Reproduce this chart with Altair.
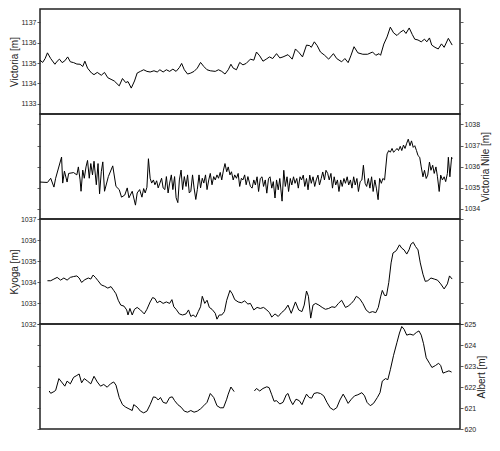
import altair as alt
import pandas as pd

# ---------------- data ----------------
vic_year = [
    2002.00, 2002.14, 2002.27, 2002.39, 2002.56, 2002.78, 2002.90, 2003.02, 2003.16, 2003.30,
    2003.45, 2003.59, 2003.76, 2003.93, 2004.10, 2004.24, 2004.35, 2004.49, 2004.70, 2004.83,
    2005.00, 2005.21, 2005.38, 2005.55, 2005.72, 2005.89, 2006.15, 2006.32, 2006.49, 2006.61,
    2006.78, 2006.95, 2007.09, 2007.26, 2007.43, 2007.60, 2007.77, 2007.97, 2008.14, 2008.28,
    2008.45, 2008.62, 2008.79, 2008.96, 2009.13, 2009.30, 2009.42, 2009.56, 2009.73, 2009.90,
    2010.07, 2010.24, 2010.41, 2010.58, 2010.75, 2010.92, 2011.18, 2011.35, 2011.52, 2011.69,
    2011.86, 2012.00, 2012.12, 2012.29, 2012.46, 2012.63, 2012.80, 2013.02,
    2013.20, 2013.34, 2013.51, 2013.68, 2013.85, 2014.02, 2014.19, 2014.39, 2014.56, 2014.73,
    2014.99, 2015.21, 2015.38, 2015.58, 2015.75, 2015.96, 2016.13, 2016.21, 2016.37, 2016.52,
    2016.69, 2016.91, 2017.12, 2017.37, 2017.54, 2017.80, 2017.97, 2018.14, 2018.28, 2018.45,
    2018.65, 2018.91, 2019.16, 2019.42, 2019.59, 2019.76, 2019.84, 2020.01, 2020.18, 2020.35,
    2020.52, 2020.70, 2020.87, 2021.04, 2021.17, 2021.34, 2021.50, 2021.63, 2021.80, 2021.97,
    2022.14, 2022.26, 2022.40, 2022.52, 2022.69, 2022.86, 2023.03, 2023.17, 2023.39, 2023.59,
]
vic_level = [
    1135.14, 1135.03, 1135.22, 1135.50, 1135.22, 1134.94, 1135.09, 1135.19, 1135.02, 1135.11,
    1135.30, 1135.06, 1135.02, 1134.95, 1134.94, 1134.83, 1135.09, 1134.75, 1134.51, 1134.43,
    1134.54, 1134.40, 1134.54, 1134.28, 1134.20, 1134.12, 1133.88, 1134.24, 1134.04, 1134.09,
    1133.77, 1134.12, 1134.51, 1134.59, 1134.67, 1134.59, 1134.56, 1134.62, 1134.56, 1134.67,
    1134.56, 1134.67, 1134.59, 1134.70, 1134.59, 1134.78, 1134.98, 1134.67, 1134.46, 1134.51,
    1134.59, 1134.75, 1135.03, 1134.83, 1134.67, 1134.62, 1134.59, 1134.67, 1134.59, 1134.46,
    1134.67, 1134.94, 1134.75, 1134.67, 1135.03, 1134.91, 1134.98, 1135.19,
    1135.14, 1135.54, 1135.35, 1135.09, 1135.19, 1135.30, 1135.22, 1135.46, 1135.25, 1135.30,
    1135.41, 1135.19, 1135.69, 1135.50, 1135.30, 1135.88, 1135.85, 1135.77, 1136.04, 1135.85,
    1135.54, 1135.38, 1135.19, 1135.46, 1135.22, 1135.06, 1135.22, 1135.02, 1135.35, 1135.80,
    1135.50, 1135.43, 1135.43, 1135.54, 1135.38, 1135.46, 1135.38, 1135.93, 1136.28, 1136.76,
    1136.48, 1136.35, 1136.51, 1136.61, 1136.45, 1136.72, 1136.40, 1136.17, 1136.13, 1136.04,
    1136.17, 1136.04, 1136.23, 1135.88, 1135.77, 1135.69, 1135.94, 1135.77, 1136.21, 1135.88,
]

nile_year = [
    2002.00, 2002.39, 2002.56, 2002.73, 2002.82, 2003.13, 2003.19, 2003.28, 2003.42, 2003.50,
    2003.76, 2003.93, 2004.01, 2004.10, 2004.15, 2004.24, 2004.32, 2004.41, 2004.49, 2004.58,
    2004.66, 2004.75, 2004.83, 2004.95, 2005.04, 2005.12, 2005.21, 2005.29, 2005.38, 2005.58,
    2005.81, 2005.98, 2006.15, 2006.27, 2006.44, 2006.57, 2006.66, 2006.83, 2007.00, 2007.09,
    2007.22, 2007.34, 2007.43, 2007.51, 2007.60, 2007.68,
    2007.77, 2007.85, 2007.94, 2008.02, 2008.11, 2008.19, 2008.28, 2008.37, 2008.45, 2008.54,
    2008.62, 2008.71, 2008.79, 2008.88, 2008.96, 2009.05, 2009.13, 2009.22, 2009.30, 2009.39,
    2009.47, 2009.56, 2009.65, 2009.73, 2009.82, 2009.90, 2009.99, 2010.07, 2010.16, 2010.24,
    2010.33, 2010.41, 2010.50, 2010.58, 2010.67, 2010.75, 2010.84, 2010.92, 2011.01, 2011.10,
    2011.18, 2011.27, 2011.35, 2011.44, 2011.52, 2011.61, 2011.69, 2011.78, 2011.86, 2011.95,
    2012.03, 2012.12, 2012.20, 2012.29, 2012.38, 2012.46, 2012.55, 2012.63, 2012.72, 2012.80,
    2012.89, 2013.02,
    2013.11, 2013.20, 2013.28, 2013.37, 2013.45, 2013.54, 2013.63, 2013.71, 2013.80, 2013.88,
    2013.97, 2014.05, 2014.14, 2014.22, 2014.31, 2014.39, 2014.48, 2014.56, 2014.68, 2014.77,
    2014.85, 2014.94, 2015.02, 2015.11, 2015.19, 2015.28, 2015.36, 2015.45, 2015.53, 2015.62,
    2015.70, 2015.79, 2015.87, 2015.96, 2016.04, 2016.13, 2016.21, 2016.30, 2016.39, 2016.47,
    2016.56, 2016.64, 2016.73, 2016.81, 2016.90, 2016.98, 2017.07, 2017.15, 2017.24, 2017.32,
    2017.41, 2017.49, 2017.58, 2017.66, 2017.75, 2017.83, 2017.92, 2018.00, 2018.09, 2018.17,
    2018.26, 2018.34, 2018.43, 2018.51, 2018.60, 2018.68, 2018.77, 2018.86, 2018.94, 2019.03,
    2019.11, 2019.20, 2019.28, 2019.37, 2019.45, 2019.54, 2019.62, 2019.71, 2019.79, 2019.88,
    2019.96, 2020.05, 2020.18, 2020.27, 2020.35, 2020.44, 2020.52, 2020.61, 2020.70, 2020.78,
    2020.87, 2020.95, 2021.04, 2021.12, 2021.21, 2021.29, 2021.38, 2021.46, 2021.55, 2021.63,
    2021.72, 2021.80, 2021.89, 2021.97, 2022.06, 2022.14, 2022.23, 2022.31, 2022.40, 2022.48,
    2022.57, 2022.65, 2022.74, 2022.82, 2022.91, 2022.99, 2023.08, 2023.17, 2023.25, 2023.34,
    2023.39, 2023.47, 2023.56, 2023.59,
]
nile_level = [
    1035.26, 1035.24, 1035.44, 1035.02, 1035.44, 1036.45, 1035.21, 1035.78, 1035.26, 1035.67,
    1035.71, 1035.60, 1035.98, 1035.36, 1034.82, 1035.83, 1035.44, 1035.98, 1036.29, 1035.44,
    1036.14, 1035.60, 1036.25, 1035.13, 1036.14, 1034.70, 1035.75, 1036.22, 1034.82, 1035.52,
    1036.03, 1035.05, 1034.90, 1034.54, 1034.64, 1034.98, 1034.51, 1034.82, 1034.16, 1034.74,
    1034.90, 1034.54, 1034.95, 1034.74, 1035.01, 1036.37,
    1035.44, 1035.21, 1035.36, 1035.13, 1035.32, 1034.98, 1035.21, 1035.44, 1034.98, 1034.90,
    1035.52, 1034.74, 1035.21, 1035.60, 1034.90, 1035.52, 1034.51, 1034.28, 1035.36, 1035.83,
    1034.90, 1035.52, 1035.05, 1035.60, 1034.74, 1034.82, 1035.60, 1034.98, 1034.43, 1034.90,
    1035.60, 1034.98, 1035.44, 1035.21, 1035.60, 1034.90, 1035.36, 1035.67, 1035.13, 1035.52,
    1035.36, 1035.60, 1035.44, 1035.72, 1035.36, 1035.83, 1036.14, 1035.75, 1035.98, 1035.60,
    1035.75, 1035.36, 1035.60, 1035.44, 1035.67, 1035.05, 1035.44, 1035.36, 1035.60, 1035.13,
    1035.52, 1035.05,
    1034.97, 1035.36, 1035.12, 1035.51, 1034.81, 1035.43, 1035.51, 1035.05, 1035.36, 1034.73,
    1035.43, 1035.51, 1034.97, 1035.28, 1034.50, 1035.36, 1034.89, 1035.43, 1034.35, 1035.82,
    1035.05, 1035.51, 1034.81, 1035.43, 1035.12, 1035.51, 1035.20, 1035.43, 1034.97, 1035.51,
    1035.36, 1035.59, 1035.05, 1035.43, 1034.89, 1035.59, 1035.20, 1035.51, 1035.05, 1035.36,
    1035.59, 1035.12, 1035.43, 1035.74, 1035.36, 1035.82, 1035.67, 1035.36, 1035.67, 1034.97,
    1035.51, 1035.12, 1035.36, 1034.81, 1035.36, 1035.05, 1035.43, 1035.20, 1035.51, 1035.12,
    1035.36, 1034.97, 1035.51, 1035.12, 1035.43, 1034.81, 1035.28, 1035.36, 1036.06, 1035.20,
    1035.05, 1035.43, 1034.97, 1035.51, 1034.81, 1035.36, 1034.97, 1034.42, 1035.43, 1035.20,
    1035.43, 1035.36, 1036.60, 1036.76, 1036.68, 1036.86, 1036.68, 1036.76, 1036.86, 1036.76,
    1036.96, 1036.76, 1037.02, 1036.86, 1037.11, 1037.30, 1036.99, 1037.22, 1036.91, 1036.99,
    1036.76, 1036.52, 1036.44, 1035.98, 1035.51, 1035.82, 1035.43, 1035.59, 1036.21, 1035.82,
    1036.06, 1035.67, 1035.98, 1035.51, 1034.81, 1035.59, 1035.36, 1035.51, 1035.28, 1035.67,
    1036.44, 1035.51, 1036.44, 1036.37,
]

kyoga_year = [
    2002.39, 2002.56, 2002.73, 2002.90, 2003.08, 2003.25, 2003.42, 2003.59, 2003.76, 2003.93,
    2004.05, 2004.18, 2004.35, 2004.53, 2004.66, 2004.78, 2004.90, 2005.04, 2005.21, 2005.38,
    2005.55, 2005.72, 2005.86, 2005.98, 2006.10, 2006.23, 2006.40, 2006.54, 2006.61, 2006.71,
    2006.83, 2006.95, 2007.09, 2007.26, 2007.46, 2007.60, 2007.77, 2007.90, 2008.02, 2008.14,
    2008.28, 2008.45, 2008.62, 2008.79, 2008.91, 2009.01, 2009.13, 2009.30, 2009.47, 2009.65,
    2009.78, 2009.90, 2010.02, 2010.16, 2010.29, 2010.41, 2010.50, 2010.63, 2010.75, 2010.87,
    2011.01, 2011.18, 2011.27, 2011.39, 2011.52, 2011.66, 2011.78, 2011.95, 2012.07, 2012.20,
    2012.38, 2012.55, 2012.72, 2012.89, 2013.02, 2013.20, 2013.37, 2013.54, 2013.71, 2013.88,
    2014.02, 2014.14, 2014.31, 2014.48, 2014.65, 2014.82, 2014.99, 2015.16, 2015.38, 2015.55,
    2015.72, 2015.84, 2015.96, 2016.06, 2016.18, 2016.30, 2016.44, 2016.61, 2016.78, 2016.95,
    2017.12, 2017.29, 2017.46, 2017.63, 2017.80, 2018.00, 2018.14, 2018.31, 2018.45, 2018.57,
    2018.74, 2018.91, 2019.08, 2019.25, 2019.42, 2019.59, 2019.72, 2019.84, 2019.93, 2020.05,
    2020.15, 2020.27, 2020.39, 2020.49, 2020.66, 2020.83, 2020.95, 2021.07, 2021.21, 2021.33,
    2021.43, 2021.55, 2021.67, 2021.80, 2021.92, 2022.06, 2022.18, 2022.31, 2022.48, 2022.65,
    2022.82, 2022.99, 2023.17, 2023.34, 2023.45, 2023.59,
]
kyoga_level = [
    1034.06, 1034.06, 1034.14, 1034.22, 1034.09, 1034.19, 1034.09, 1034.22, 1034.26, 1034.29,
    1034.19, 1033.98, 1034.11, 1034.19, 1034.14, 1034.33, 1034.22, 1034.06, 1033.86, 1033.80,
    1033.71, 1033.78, 1033.60, 1033.44, 1033.13, 1032.90, 1032.85, 1032.67, 1032.43, 1032.74,
    1032.43, 1032.70, 1032.79, 1032.67, 1032.48, 1032.70, 1033.05, 1033.26, 1033.21, 1033.01,
    1033.09, 1032.98, 1033.05, 1032.98, 1033.16, 1032.82, 1032.70, 1032.48, 1032.43, 1032.48,
    1032.67, 1032.36, 1032.43, 1032.33, 1032.59, 1032.82, 1033.32, 1032.98, 1033.13, 1032.79,
    1032.70, 1032.51, 1032.23, 1032.43, 1032.43, 1032.59, 1033.13, 1033.60, 1033.44, 1033.16,
    1033.05, 1033.01, 1033.10, 1032.95, 1032.98, 1032.67, 1032.79, 1032.74, 1032.79, 1032.67,
    1032.54, 1032.33, 1032.48, 1032.36, 1032.54, 1032.67, 1032.90, 1032.51, 1033.05, 1032.67,
    1032.59, 1032.90, 1033.57, 1033.32, 1032.28, 1032.90, 1032.98, 1032.90, 1032.79, 1032.70,
    1032.74, 1032.82, 1032.79, 1032.98, 1033.13, 1032.79, 1032.85, 1032.98, 1033.13, 1033.32,
    1033.21, 1032.98, 1032.67, 1032.54, 1032.59, 1032.54, 1032.79, 1033.29, 1033.60, 1033.36,
    1033.36, 1033.98, 1034.91, 1035.38, 1035.49, 1035.77, 1035.61, 1035.53, 1035.33, 1035.53,
    1035.80, 1035.89, 1035.69, 1035.53, 1034.91, 1034.37, 1034.03, 1034.06, 1034.19, 1034.14,
    1034.09, 1033.91, 1033.67, 1033.91, 1034.29, 1034.14,
]

albert_year = [
    2002.48, 2002.56, 2002.73, 2002.82, 2002.99, 2003.13, 2003.30, 2003.42, 2003.59, 2003.76,
    2003.93, 2004.05, 2004.18, 2004.32, 2004.49, 2004.66, 2004.83, 2005.00, 2005.17, 2005.34,
    2005.52, 2005.69, 2005.86, 2005.98, 2006.15, 2006.32, 2006.49, 2006.66, 2006.83, 2006.91,
    2007.09, 2007.26, 2007.43, 2007.60, 2007.77, 2007.94, 2008.08, 2008.19, 2008.31, 2008.45,
    2008.62, 2008.79, 2008.93, 2009.05, 2009.22, 2009.39, 2009.56, 2009.73, 2009.90, 2010.07,
    2010.24, 2010.41, 2010.58, 2010.75, 2010.92, 2011.10, 2011.27, 2011.44, 2011.61, 2011.78,
    2011.86, 2012.00, 2012.17,
    2013.23, 2013.34, 2013.51, 2013.68, 2013.88, 2014.00, 2014.14, 2014.26, 2014.39, 2014.56,
    2014.73, 2014.90, 2014.99, 2015.11, 2015.24, 2015.41, 2015.58, 2015.72, 2015.84, 2015.96,
    2016.10, 2016.23, 2016.35, 2016.52, 2016.69, 2016.86, 2017.03, 2017.20, 2017.37, 2017.54,
    2017.71, 2017.88, 2018.00, 2018.14, 2018.31, 2018.48, 2018.65, 2018.86, 2019.00, 2019.13,
    2019.30, 2019.47, 2019.67, 2019.81, 2019.93, 2020.10, 2020.22, 2020.35, 2020.52, 2020.70,
    2020.83, 2020.95, 2021.07, 2021.21, 2021.38, 2021.55, 2021.72, 2021.85, 2021.97, 2022.09,
    2022.23, 2022.40, 2022.53, 2022.71, 2022.88, 2022.99, 2023.11, 2023.25, 2023.42, 2023.56,
]
albert_level = [
    621.81, 621.70, 621.78, 621.84, 622.40, 622.24, 622.04, 622.28, 622.15, 622.46,
    622.55, 622.62, 622.20, 622.40, 622.28, 622.15, 622.51, 622.24, 622.04, 622.12,
    621.99, 622.15, 622.24, 622.09, 621.50, 621.16, 621.04, 620.96, 620.88, 621.16,
    621.04, 620.85, 620.77, 620.85, 621.16, 621.53, 621.50, 621.38, 621.50, 621.27,
    621.22, 621.50, 621.53, 621.35, 621.16, 621.04, 620.85, 620.80, 620.88, 620.80,
    620.85, 620.96, 621.11, 621.27, 621.69, 621.50, 621.11, 621.01, 621.01, 621.42,
    621.66, 622.00, 621.78,
    621.81, 621.93, 621.81, 621.93, 622.01, 621.97, 621.63, 621.32, 621.35, 621.19,
    621.27, 621.63, 621.69, 621.38, 621.16, 621.42, 621.35, 621.16, 621.42, 621.66,
    621.50, 621.47, 621.69, 621.73, 621.69, 621.58, 621.27, 621.01, 620.91, 621.01,
    621.38, 621.66, 621.47, 621.22, 621.42, 621.58, 621.63, 621.73, 621.58, 621.27,
    621.11, 621.22, 621.50, 621.73, 622.28, 622.40, 622.35, 622.82, 623.51, 624.13,
    624.57, 624.88, 624.75, 624.47, 624.52, 624.47, 624.60, 624.67, 624.47, 624.06,
    623.39, 623.13, 622.93, 623.02, 623.13, 623.02, 622.66, 622.71, 622.77, 622.71,
]
albert_gap_after = 2012.5  # no observations between the two segments

year_ticks = list(range(2002, 2025, 2))
vic_ticks = [1133, 1134, 1135, 1136, 1137]
nile_ticks = [1034, 1035, 1036, 1037, 1038]
kyoga_ticks = [1032, 1033, 1034, 1035, 1036, 1037]
albert_ticks = [620, 621, 622, 623, 624, 625]

# ---------------- chart ----------------
W = 420
H = 105
FONT = "Liberation Sans"


def y_axis(orient, side, title, ticks):
    show = orient == side
    kw = dict(orient=orient, values=ticks, labels=show, grid=False, tickSize=3,
              tickColor="#333333", tickWidth=0.8, domain=False, labelFontSize=7,
              labelPadding=1, labelColor="#222222", format="d")
    if show:
        kw.update(title=title, titleFontSize=10, titleFontWeight="normal",
                  titlePadding=1, titleColor="#222222")
        if orient == "right":
            kw["titleAngle"] = 270
            kw["titleBaseline"] = "top"
    else:
        kw["title"] = None
    return alt.Axis(**kw)


def panel(years, levels, domain, ticks, title, side, bottom, gap=None):
    df = pd.DataFrame({"year": years, "level": levels})
    df["seg"] = 0 if gap is None else (df["year"] > gap).astype(int)
    xscale = alt.Scale(domain=[2002, 2024], nice=False, zero=False)
    yscale = alt.Scale(domain=domain, nice=False, zero=False)
    x_axis = alt.Axis(values=year_ticks, format="d", labels=bottom, grid=True,
                      gridDash=[3, 3], gridColor="#d0d0d0", gridWidth=0.7,
                      tickSize=3, tickColor="#333333", tickWidth=0.8, domain=False,
                      title=None, labelFontSize=7, labelPadding=2,
                      labelColor="#222222", labelFlush=False)
    base = alt.Chart(df)
    line = base.mark_line(color="black", strokeWidth=1).encode(
        x=alt.X("year:Q", scale=xscale, axis=x_axis),
        y=alt.Y("level:Q", scale=yscale, axis=y_axis("left", side, title, ticks)),
        detail="seg:N",
    )
    ghost = base.mark_line(opacity=0).encode(
        x=alt.X("year:Q", scale=xscale, axis=None),
        y=alt.Y("level:Q", scale=yscale, axis=y_axis("right", side, title, ticks)),
        detail="seg:N",
    )
    return alt.layer(line, ghost).resolve_axis(y="independent").properties(width=W, height=H)


p1 = panel(vic_year, vic_level, [1132.5, 1137.65], vic_ticks, "Victoria [m]", "left", False)
p2 = panel(nile_year, nile_level, [1033.5, 1038.5], nile_ticks, "Victoria Nile [m]", "right", False)
p3 = panel(kyoga_year, kyoga_level, [1032, 1037], kyoga_ticks, "Kyoga [m]", "left", False)
p4 = panel(albert_year, albert_level, [620, 625], albert_ticks, "Albert [m]", "right", True,
           gap=albert_gap_after)

chart = (
    alt.vconcat(p1, p2, p3, p4, spacing=0, bounds="flush")
    .properties(padding=0)
    .configure(font=FONT)
    .configure_view(stroke="#222222", strokeWidth=1.5)
)

chart.save("out.html", embed_options={"renderer": "svg", "actions": False})
